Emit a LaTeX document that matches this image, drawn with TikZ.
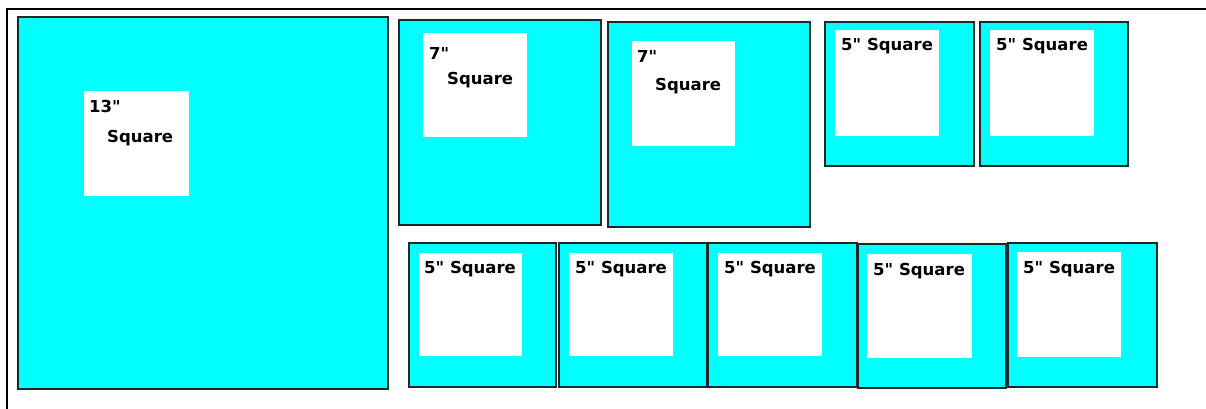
\documentclass[tikz,border=0pt]{standalone}
\usepackage{fontspec}
\newfontfamily\quiltfont{DejaVu Sans}
\usetikzlibrary{positioning}
\definecolor{quiltcyan}{RGB}{0,255,255}
\definecolor{seamline}{RGB}{30,40,40}

\begin{document}
\begin{tikzpicture}[
    x=1pt, y=-1pt,
    sized/.style 2 args={minimum width=#1pt, minimum height=#2pt},
    patch/.style={draw=seamline, line width=1.7pt, fill=quiltcyan, inner sep=0pt, anchor=north west},
    center/.style={fill=white, inner sep=0pt, anchor=north west},
    lbl/.style={font=\quiltfont\bfseries\fontsize{16.5}{19}\selectfont, inner sep=0pt, anchor=north west}
]
\useasboundingbox (0,0) rectangle (1206,409);

% Page frame
\coordinate (fbl) at (7,409);
\coordinate (ftl) at (7,9);
\coordinate (ftr) at (1206,9);
\draw[line width=1.3pt] (fbl) -- (ftl) -- (ftr);

% 13 inch block
\node[patch, sized={370}{372}] (p13) at (17,16) {};
\node[center, sized={105}{105}] (w13) at (84,91) {};
\node[lbl, below right=9pt and 5pt of w13.north west] (t13) {13"};
\node[lbl, below right=39pt and 23pt of w13.north west] (s13) {Square};

% 7 inch blocks
\node[patch, sized={202}{205}] (p7a) at (398,19) {};
\node[center, sized={104}{104}] (w7a) at (423,33) {};
\node[lbl, below right=14pt and 6pt of w7a.north west] (t7a) {7"};
\node[lbl, below right=39pt and 24pt of w7a.north west] (s7a) {Square};

\node[patch, sized={202}{205}] (p7b) at (607,21) {};
\node[center, sized={103}{105}] (w7b) at (632,41) {};
\node[lbl, below right=9pt and 5pt of w7b.north west] (t7b) {7"};
\node[lbl, below right=37pt and 23pt of w7b.north west] (s7b) {Square};

% 5 inch blocks, top row
\node[patch, sized={149}{144}] (p5a) at (824,21) {};
\node[center, sized={104}{106}] (w5a) at (835,30) {};
\node[lbl, below right=8pt and 6pt of w5a.north west] (t5a) {5" Square};

\node[patch, sized={148}{144}] (p5b) at (979,21) {};
\node[center, sized={104}{106}] (w5b) at (990,30) {};
\node[lbl, below right=8pt and 6pt of w5b.north west] (t5b) {5" Square};

% 5 inch blocks, bottom row
\node[patch, sized={147}{144}] (p5c) at (408,242) {};
\node[center, sized={103}{103}] (w5c) at (419,253) {};
\node[lbl, below right=8pt and 5pt of w5c.north west] (t5c) {5" Square};

\node[patch, sized={148}{144}] (p5d) at (558,242) {};
\node[center, sized={104}{103}] (w5d) at (569,253) {};
\node[lbl, below right=8pt and 6pt of w5d.north west] (t5d) {5" Square};

\node[patch, sized={149}{144}] (p5e) at (707,242) {};
\node[center, sized={104}{103}] (w5e) at (718,253) {};
\node[lbl, below right=8pt and 6pt of w5e.north west] (t5e) {5" Square};

\node[patch, sized={148}{144}] (p5f) at (857,243) {};
\node[center, sized={105}{104}] (w5f) at (867,254) {};
\node[lbl, below right=9pt and 6pt of w5f.north west] (t5f) {5" Square};

\node[patch, sized={149}{144}] (p5g) at (1007,242) {};
\node[center, sized={104}{105}] (w5g) at (1017,252) {};
\node[lbl, below right=9pt and 6pt of w5g.north west] (t5g) {5" Square};

\end{tikzpicture}
\end{document}
